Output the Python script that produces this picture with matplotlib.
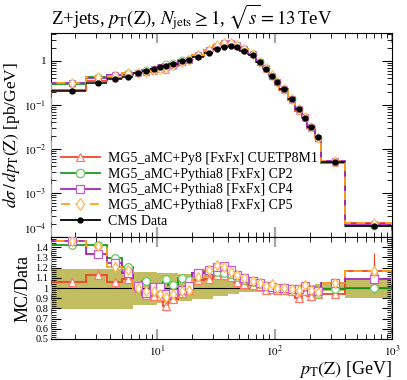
import numpy as np
import matplotlib
matplotlib.use("Agg")
import matplotlib.pyplot as plt
from matplotlib.lines import Line2D
from matplotlib.ticker import MultipleLocator, LogLocator, NullFormatter, FixedLocator

plt.rcParams['font.family'] = ['Liberation Serif', 'DejaVu Serif']
plt.rcParams['mathtext.fontset'] = 'stix'

# bin edges of pT(Z) [GeV]
bin_edges = [1.25, 2.5, 3.75, 5, 6.25, 7.5, 8.75, 10, 11.25, 12.5, 15, 17.5, 20, 25, 30,
             35, 40, 45, 50, 60, 70, 80, 90, 100, 110, 130, 150, 170, 190, 220, 250, 400, 1000]

# CMS data, dsigma/dpT [pb/GeV]
data_xsec = [0.21, 0.31, 0.38, 0.44, 0.52, 0.59, 0.64, 0.71, 0.77, 0.87, 0.97, 1.05, 1.21, 1.5,
             1.84, 2.12, 2.19, 2.05, 1.72, 1.37, 0.92, 0.66, 0.456, 0.34, 0.227, 0.135, 0.081,
             0.0515, 0.032, 0.0185, 0.00515, 0.000181]
# relative data uncertainty (up / down)
data_rel_up = [0.19, 0.19, 0.19, 0.19, 0.16, 0.16, 0.16, 0.15, 0.15, 0.15, 0.14, 0.14, 0.14, 0.14,
               0.13, 0.13, 0.09, 0.09, 0.06, 0.06, 0.04, 0.04, 0.04, 0.03, 0.03, 0.03, 0.03, 0.03,
               0.03, 0.035, 0.05, 0.075]
data_rel_dn = [0.21, 0.21, 0.21, 0.21, 0.17, 0.17, 0.17, 0.15, 0.15, 0.15, 0.13, 0.13, 0.11, 0.11,
               0.08, 0.08, 0.06, 0.06, 0.04, 0.04, 0.035, 0.035, 0.035, 0.03, 0.03, 0.03, 0.03, 0.03,
               0.03, 0.03, 0.03, 0.10]

# MC / Data ratios
ratio_cuetp8m1 = [1.06, 1.13, 1.055, 1.09, 1.0, 0.93, 0.92, 0.92, 0.82, 0.89, 0.955, 0.985, 1.08,
                  1.09, 1.13, 1.125, 1.11, 1.06, 1.035, 1.03, 1.02, 0.985, 0.99, 0.985, 0.985, 0.97,
                  0.905, 0.97, 0.92, 0.94, 0.94, 1.17]
ratio_cp2 = [1.42, 1.42, 1.29, 1.21, 1.0, 1.065, 0.99, 0.98, 1.09, 1.025, 1.10, 1.075, 1.15, 1.18,
             1.16, 1.15, 1.14, 1.11, 1.08, 1.06, 1.04, 1.02, 1.01, 1.0, 1.0, 0.99, 0.99, 1.01, 0.98,
             0.94, 0.99, 1.0]
ratio_cp4 = [1.465, 1.33, 1.25, 1.15, 1.02, 0.95, 1.01, 1.01, 0.94, 0.95, 0.985, 1.02, 1.146, 1.18,
             1.21, 1.216, 1.18, 1.13, 1.10, 1.07, 1.05, 1.02, 1.01, 1.0, 1.0, 0.99, 0.99, 1.02, 0.98,
             0.97, 1.05, 1.09]
ratio_cp5 = [1.465, 1.41, 1.21, 1.18, 1.0, 0.97, 0.97, 0.94, 0.91, 0.94, 0.97, 0.985, 1.11, 1.18,
             1.226, 1.21, 1.16, 1.13, 1.10, 1.066, 1.05, 1.02, 1.043, 1.0, 1.0, 0.986, 0.98, 1.034,
             0.98, 0.96, 1.05, 1.17]
# relative MC statistical errors
mc_err_cuetp8m1 = [0.04] * 31 + [0.15]
mc_err_other = [0.025] * 31 + [0.05]

labels = ["MG5_aMC+Py8 [FxFx] CUETP8M1", "MG5_aMC+Pythia8 [FxFx] CP2",
          "MG5_aMC+Pythia8 [FxFx] CP4", "MG5_aMC+Pythia8 [FxFx] CP5"]
colors = ["#f0442a", "#1e9a1e", "#a526b8", "#ffa31a"]
marker_ec = ["#ff7a66", "#66cc66", "#c45ad4", "#ffb84d"]
markers = ["^", "o", "s", "d"]
styles = ["-", "-", "-", (0, (5, 3))]

edges = np.array(bin_edges)
centers = 0.5 * (edges[:-1] + edges[1:])
halfw = 0.5 * (edges[1:] - edges[:-1])
data = np.array(data_xsec)
ratios = [np.array(r) for r in [ratio_cuetp8m1, ratio_cp2, ratio_cp4, ratio_cp5]]
mc_errs = [np.array(mc_err_cuetp8m1)] + [np.array(mc_err_other)] * 3

fig = plt.figure(figsize=(4.07, 3.80), dpi=100)
ax = fig.add_axes([0.1253, 0.3763, 0.8378, 0.5369])
axr = fig.add_axes([0.1253, 0.1079, 0.8378, 0.2684], sharex=ax)

# main panel
for i in range(4):
    mc = ratios[i] * data
    ax.stairs(mc, edges, color=colors[i], lw=1.3, ls=styles[i], zorder=2 + i)
    ax.errorbar(centers, mc, yerr=mc * mc_errs[i], fmt=markers[i], ms=5, mfc='white',
                mec=marker_ec[i], mew=0.8, ecolor=marker_ec[i], elinewidth=0.7,
                alpha=0.85, zorder=3 + i)
ax.errorbar(centers, data, xerr=halfw, yerr=[data * np.array(data_rel_dn) * 0.3,
            data * np.array(data_rel_up) * 0.3], fmt='o', color='black', ms=3.5,
            elinewidth=1.1, capsize=0, zorder=10)

ax.set_xscale('log')
ax.set_yscale('log')
ax.set_xlim(1.25, 1000)
ax.set_ylim(1e-4, 4.3)
ax.yaxis.set_minor_locator(LogLocator(base=10, subs=np.arange(2, 10), numticks=20))
ax.yaxis.set_minor_formatter(NullFormatter())
ax.set_yticks([1e-4, 1e-3, 1e-2, 1e-1, 1])
ax.set_yticklabels([r"$10^{-4}$", r"$10^{-3}$", r"$10^{-2}$", r"$10^{-1}$", "1"])
ax.get_yticklabels()[0].set_verticalalignment('bottom')
ax.tick_params(axis='x', labelbottom=False)
ax.set_ylabel(r"$d\sigma\,/\,dp_{\mathrm{T}}(\mathrm{Z})$ [pb/GeV]", fontsize=12.5, labelpad=1)
ax.set_title(r"Z+jets, $p_{\mathrm{T}}(\mathrm{Z})$, $N_{\mathrm{jets}} \geq 1$, $\sqrt{s} = 13\,$TeV",
             loc='left', fontsize=13.5, pad=4)

handles = []
for i in range(4):
    handles.append(Line2D([], [], color=colors[i], ls=styles[i], lw=1.3, marker=markers[i],
                          ms=6, mfc='white', mec=marker_ec[i], mew=0.9))
handles.append(Line2D([], [], color='black', lw=1.3, marker='o', ms=3.5))
ax.legend(handles, labels + ["CMS Data"], loc='upper left', bbox_to_anchor=(0.0, 0.465),
          frameon=False, fontsize=10, handlelength=2.8, handletextpad=0.6, labelspacing=0.2,
          borderaxespad=0.3)

# ratio panel
band_lo = 1 - np.array(data_rel_dn)
band_hi = 1 + np.array(data_rel_up)
axr.stairs(band_hi, edges, baseline=band_lo, fill=True, color='#c2bd60', lw=0, zorder=1)
axr.axhline(1.0, color='black', lw=0.8, zorder=2)
for i in range(4):
    axr.stairs(ratios[i], edges, color=colors[i], lw=1.3, ls=styles[i], zorder=3 + i)
    axr.errorbar(centers, ratios[i], yerr=ratios[i] * mc_errs[i], fmt=markers[i], ms=5.5,
                 mfc='white', mec=marker_ec[i], mew=0.9, ecolor=colors[i], elinewidth=0.9,
                 zorder=4 + i)
axr.set_ylim(0.5, 1.5)
axr.yaxis.set_major_locator(FixedLocator(np.round(np.arange(0.5, 1.45, 0.1), 2)))
axr.yaxis.set_major_formatter(plt.FuncFormatter(lambda v, p: "1" if abs(v - 1) < 1e-6 else f"{v:.1f}"))
axr.yaxis.set_minor_locator(MultipleLocator(0.02))
axr.set_ylabel("MC/Data", fontsize=13, labelpad=3)
axr.set_xlabel(r"$p_{\mathrm{T}}(\mathrm{Z})$ [GeV]", fontsize=13, loc='right', labelpad=0)
axr.set_xticks([10, 100, 1000])
axr.set_xticklabels([r"$10^{1}$", r"$10^{2}$", r"$10^{3}$"])

for a in (ax, axr):
    a.tick_params(which='both', direction='in', top=True, right=True, labelsize=8)
    a.tick_params(which='major', length=7)
    a.tick_params(which='minor', length=3.5, width=0.6)
    a.tick_params(axis='x', which='major', color='0.65', width=1.6)
    for s in a.spines.values():
        s.set_linewidth(0.8)
axr.tick_params(axis='y', labelsize=7.5, pad=2)

fig.savefig("out.png", dpi=100)
